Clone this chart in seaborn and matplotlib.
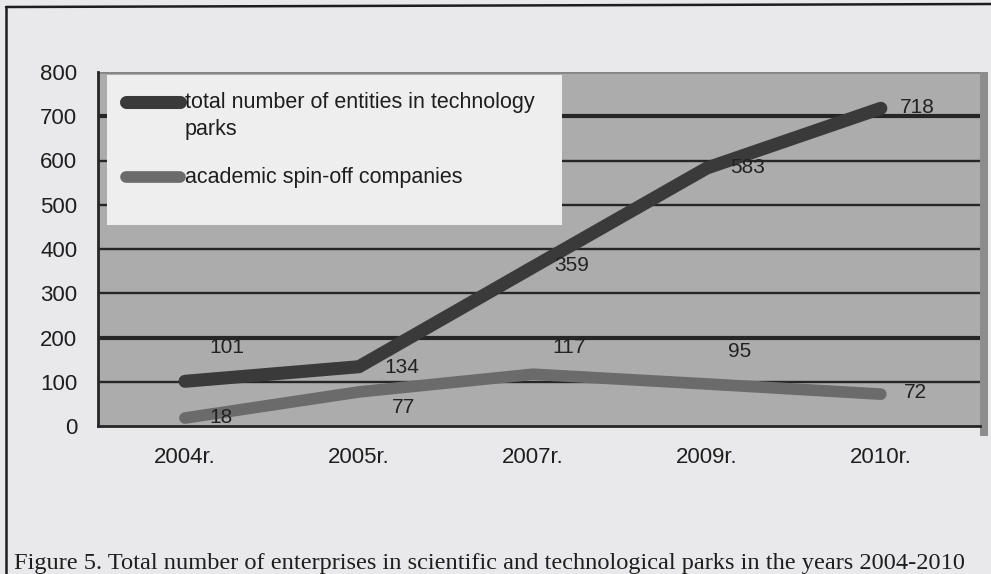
import numpy as np
import pandas as pd
import matplotlib
matplotlib.use("Agg")
import matplotlib.pyplot as plt
from matplotlib.patches import Rectangle
from matplotlib.lines import Line2D
import seaborn as sns

# ---- data ----
years = ["2004r.", "2005r.", "2007r.", "2009r.", "2010r."]
total_entities = [101, 134, 359, 583, 718]
spin_offs = [18, 77, 117, 95, 72]
series_names = ["total number of entities in technology parks",
                "academic spin-off companies"]
legend_labels = ["total number of entities in technology\nparks",
                 "academic spin-off companies"]
y_ticks = [0, 100, 200, 300, 400, 500, 600, 700, 800]
caption = ("Figure 5. Total number of enterprises in scientific and "
           "technological parks in the years 2004-2010")

# ---- styling ----
# pixel offsets of the value labels relative to their points
total_offsets = [(42, 34), (43, -1), (39, 2), (41, 1), (36, 1)]
spin_offsets = [(36, 1), (45, -16), (36, 27), (33, 32), (35, 2)]
dark = "#3a3a3a"
mid = "#6b6b6b"
grid_col = "#262626"

sns.set_theme(style="white")
plt.rcParams["font.family"] = ["Liberation Sans", "DejaVu Sans"]

W, H = 991, 574
fig = plt.figure(figsize=(W / 100, H / 100), dpi=100, facecolor="#e9e9eb")

# axes box in pixels: x 98..980, y 72..426 (top-down)
ax_l, ax_r, ax_t, ax_b = 98, 980, 72, 426
ax = fig.add_axes([ax_l / W, 1 - ax_b / H, (ax_r - ax_l) / W, (ax_b - ax_t) / H])
ax.set_facecolor("#acacac")

df = pd.DataFrame({
    "year": years * 2,
    "value": total_entities + spin_offs,
    "series": [series_names[0]] * len(years) + [series_names[1]] * len(years),
})

# horizontal gridlines (200 and 700 drawn heavier)
for v in y_ticks[1:-1]:
    lw = 3.0 if v in (200, 700) else 1.7
    ax.axhline(v, color=grid_col, lw=lw, zorder=1)
ax.axhline(800, color="#858585", lw=2.0, zorder=1)

sns.lineplot(data=df, x="year", y="value", hue="series",
             palette=[dark, mid], linewidth=9.4, legend=False, ax=ax,
             sort=False, zorder=3, solid_capstyle="round")
ax.lines[-1].set_linewidth(8.4)

ax.set_xlim(-0.5, 4.57)
ax.set_ylim(0, 800)
ax.set_yticks(y_ticks)
ax.set_yticklabels([str(v) for v in y_ticks], fontsize=16, color="#1e1e1e")
ax.set_xticks(range(len(years)))
ax.set_xticklabels(years, fontsize=16, color="#1e1e1e")
ax.set_xticks(np.arange(-0.5, len(years) - 1, 1.0), minor=True)
ax.tick_params(axis="x", which="major", length=0, pad=15)
ax.tick_params(axis="x", which="minor", length=5, width=1.8,
               color=grid_col, direction="out")
ax.tick_params(axis="y", length=5, width=1.8, color=grid_col,
               direction="out", pad=10)
ax.set_xlabel("")
ax.set_ylabel("")
for side in ("top", "right"):
    ax.spines[side].set_visible(False)
for side in ("left", "bottom"):
    ax.spines[side].set_color(grid_col)
    ax.spines[side].set_linewidth(2.0)

# value labels
for i, (v, off) in enumerate(zip(total_entities, total_offsets)):
    ax.annotate(str(v), (i, v), xytext=off, textcoords="offset pixels",
                ha="center", va="center", fontsize=15, color="#222222",
                zorder=5)
for i, (v, off) in enumerate(zip(spin_offs, spin_offsets)):
    ax.annotate(str(v), (i, v), xytext=off, textcoords="offset pixels",
                ha="center", va="center", fontsize=15, color="#222222",
                zorder=5)

# right-hand depth wall of the plot area
def px_to_axes(x, y):
    return ((x - ax_l) / (ax_r - ax_l), (ax_b - y) / (ax_b - ax_t))

wx, wy = px_to_axes(980, 436)
ax.add_patch(Rectangle((wx, wy), 8 / (ax_r - ax_l), (436 - 72) / (ax_b - ax_t),
                       transform=ax.transAxes, facecolor="#8d8d8d",
                       edgecolor="none", clip_on=False, zorder=0))

# legend box
lx, ly = px_to_axes(107, 225)
ax.add_patch(Rectangle((lx, ly), (562 - 107) / (ax_r - ax_l),
                       (225 - 75) / (ax_b - ax_t), transform=ax.transAxes,
                       facecolor="#eeeeee", edgecolor="none", zorder=6))
for (hy, col, lw), label, ty in zip([(102, dark, 9.4), (177, mid, 8.4)],
                                    legend_labels, [92, 167]):
    x0, yy = px_to_axes(126, hy)
    x1, _ = px_to_axes(180, hy)
    ax.add_line(Line2D([x0, x1], [yy, yy], transform=ax.transAxes, color=col,
                       lw=lw, solid_capstyle="round", zorder=7))
    tx, tyy = px_to_axes(185, ty)
    ax.text(tx, tyy, label, transform=ax.transAxes, ha="left", va="top",
            fontsize=15.5, color="#1e1e1e", linespacing=1.35, zorder=7)

# outer frame of the figure
fig.add_artist(Line2D([6 / W, 1.0], [1 - 7 / H, 1 - 4 / H], color="#1e1e1e",
                      lw=1.8, transform=fig.transFigure))
fig.add_artist(Line2D([6 / W, 6 / W], [1 - 7 / H, 0], color="#1e1e1e",
                      lw=1.8, transform=fig.transFigure))

# caption beneath the chart
fig.text(14 / W, 1 - 569 / H, caption, ha="left", va="baseline",
         fontsize=17.6, family=["Liberation Serif", "DejaVu Serif"],
         color="#1e1e1e")

fig.savefig("out.png", dpi=100, facecolor=fig.get_facecolor())
